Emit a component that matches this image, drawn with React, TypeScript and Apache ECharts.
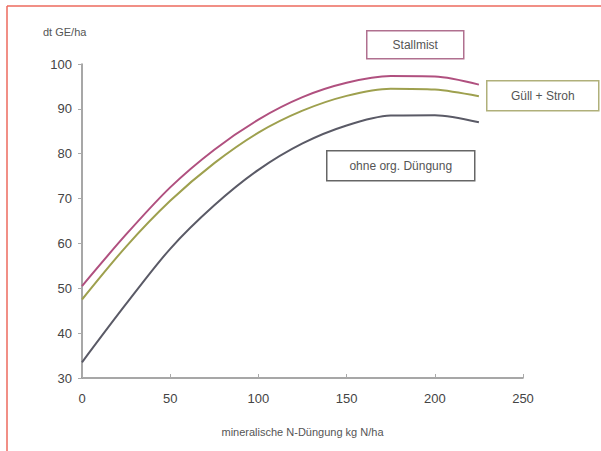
import React, { useEffect, useRef } from "react";
import * as echarts from "echarts";

const nRates = [0, 25, 50, 75, 100, 125, 150, 175, 200, 225];
const stallmist = [50.5, 62.0, 72.5, 80.9, 87.6, 92.6, 95.8, 97.3, 97.2, 95.4];
const guelleStroh = [47.5, 59.3, 69.5, 77.9, 84.7, 89.6, 92.9, 94.5, 94.3, 92.8];
const ohneOrg = [33.5, 46.5, 58.8, 68.5, 76.4, 82.3, 86.3, 88.5, 88.6, 87.0];
const seriesNames = ["Stallmist", "Güll + Stroh", "ohne org. Düngung"];
const yTitle = "dt GE/ha";
const xTitle = "mineralische N-Düngung kg N/ha";

export default function App() {
  const ref = useRef<HTMLDivElement>(null);
  useEffect(() => {
    if (!ref.current) return;
    const chart = echarts.init(ref.current, null, { renderer: "svg" });
    const pair = (ys: number[]) => nRates.map((x, i) => [x, ys[i]]);
    const labelBox = (
      x: number, y: number, w: number, h: number, text: string, border: string
    ) => ({
      type: "group",
      left: x,
      top: y,
      children: [
        { type: "rect", shape: { x: 0, y: 0, width: w, height: h }, style: { fill: "#fff", stroke: border, lineWidth: 1.5 } },
        {
          type: "text",
          style: {
            x: w / 2, y: h / 2, text, align: "center", verticalAlign: "middle",
            fill: "#555", font: "12px Arial, 'Liberation Sans', sans-serif",
          },
        },
      ],
    });
    chart.setOption({
      animation: false,
      backgroundColor: "#fff",
      grid: { left: 82, right: 78, top: 64, bottom: 73, containLabel: false },
      xAxis: {
        type: "value",
        min: 0,
        max: 250,
        interval: 50,
        name: xTitle,
        nameLocation: "middle",
        nameGap: 48,
        nameTextStyle: { color: "#555", fontSize: 11, fontFamily: "Arial, 'Liberation Sans', sans-serif" },
        axisLine: { lineStyle: { color: "#8a8a8a", width: 1.5 } },
        axisTick: { inside: true, length: 4, lineStyle: { color: "#aaa" } },
        axisLabel: { color: "#444", fontSize: 13, margin: 14, fontFamily: "Arial, 'Liberation Sans', sans-serif" },
        splitLine: { show: false },
      },
      yAxis: {
        type: "value",
        min: 30,
        max: 100,
        interval: 10,
        axisLine: { show: true, lineStyle: { color: "#8a8a8a", width: 1.5 } },
        axisTick: { show: true, length: 4, lineStyle: { color: "#aaa" } },
        axisLabel: { color: "#444", fontSize: 13, margin: 10, fontFamily: "Arial, 'Liberation Sans', sans-serif" },
        splitLine: { show: false },
      },
      series: [
        { name: seriesNames[0], type: "line", smooth: 0.3, showSymbol: false, data: pair(stallmist), lineStyle: { color: "#b0507f", width: 2 } },
        { name: seriesNames[1], type: "line", smooth: 0.3, showSymbol: false, data: pair(guelleStroh), lineStyle: { color: "#9ea04e", width: 2 } },
        { name: seriesNames[2], type: "line", smooth: 0.3, showSymbol: false, data: pair(ohneOrg), lineStyle: { color: "#5a5a66", width: 2 } },
      ],
      graphic: [
        { type: "line", shape: { x1: 7, y1: 6, x2: 601, y2: 6 }, style: { stroke: "#ec6a5e", lineWidth: 1.5 } },
        { type: "line", shape: { x1: 7, y1: 6, x2: 7, y2: 451 }, style: { stroke: "#ec6a5e", lineWidth: 1.5 } },
        {
          type: "text", left: 43, top: 26,
          style: { text: yTitle, fill: "#555", font: "11px Arial, 'Liberation Sans', sans-serif" },
        },
        labelBox(366, 30, 97, 28, seriesNames[0], "#b0708f"),
        labelBox(486, 80, 112, 30, seriesNames[1], "#b0b07a"),
        labelBox(326, 150, 148, 30, seriesNames[2], "#666"),
      ],
    });
    return () => chart.dispose();
  }, []);
  return (
    <div
      ref={ref}
      style={{ position: "absolute", left: 0, top: 0, width: 601, height: 451 }}
    />
  );
}
